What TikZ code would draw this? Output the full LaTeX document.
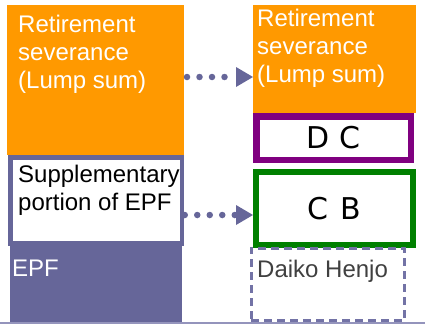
\documentclass[tikz,border=0pt]{standalone}
\usepackage{fontspec}
\setmainfont{Liberation Sans}
\newfontfamily\planfont{DejaVu Sans}
\usetikzlibrary{arrows.meta}

\definecolor{sevorange}{HTML}{FF9900}
\definecolor{epfpurple}{HTML}{666699}
\definecolor{dcpurple}{HTML}{800080}
\definecolor{cbgreen}{HTML}{008000}
\definecolor{henjodash}{HTML}{7373A6}
\definecolor{henjotext}{HTML}{404040}
\definecolor{groundline}{HTML}{9494BC}

\begin{document}
\begin{tikzpicture}[x=1pt,y=-1pt]

\tikzstyle{block}=[anchor=north west, inner sep=0, outer sep=0]
\tikzstyle{sev}=[block, fill=sevorange]
\tikzstyle{plan}=[block, fill=white, font=\planfont\fontsize{30}{36}\selectfont]
\tikzstyle{label}=[anchor=north west, inner sep=0, align=left,
font=\fontsize{24}{28}\selectfont]
\tikzstyle{flow}=[epfpurple, line width=6.5pt, line cap=round,
dash pattern=on 0pt off 12.5pt, dash phase=9.5pt,
-{Triangle[length=17pt, width=20pt, line width=0pt]}]

\useasboundingbox (0,0) rectangle (425,324);

% lump sum on both sides
\node[sev, minimum width=177pt, minimum height=150pt] (lsev) at (7,5) {};
\node[label, text=white] (lsevtext) at (18,14.8) {Retirement\\severance\\(Lump sum)};
\node[sev, minimum width=163pt, minimum height=108pt] (rsev) at (253,5) {};
\node[label, text=white] (rsevtext) at (257,8.8) {Retirement\\severance\\(Lump sum)};

% pension fund column
\node[block, fill=epfpurple, minimum width=172pt, minimum height=167pt] (epf) at (10,155) {};
\node[label, text=white] (epftext) at (12,259.8) {EPF};
\node[block, draw=epfpurple, line width=4.5pt, fill=white,
minimum width=171.5pt, minimum height=86pt] (supp) at (10.25,157.25) {};
\node[label] (supptext) at (18,165) {Supplementary\\portion of EPF};

% new plans
\node[plan, draw=dcpurple, line width=6.5pt,
minimum width=154.5pt, minimum height=43.5pt] (dc) at (256.25,116.25) {D C};
\node[plan, draw=cbgreen, line width=6pt,
minimum width=157pt, minimum height=73pt] (cb) at (256,172) {C\hspace{0.4em}B};
\node[block, draw=henjodash, line width=3pt, dash pattern=on 8pt off 5pt,
minimum width=153.5pt, minimum height=72pt] (henjo) at (251,248.3) {};
\node[label, text=henjotext] (henjotext) at (257,259.8) {Daiko Henjo};

\coordinate (groundl) at (0,322.5);
\coordinate (groundr) at (425,322.5);
\draw[groundline, line width=2pt] (groundl) -- (groundr);

\draw[flow] ([yshift=3pt]lsev.east) -- ([yshift=-18pt]rsev.west);
\draw[flow] ([yshift=-14.75pt]supp.east) -- ([xshift=-3pt, yshift=-6.5pt]cb.west);
\end{tikzpicture}
\end{document}
